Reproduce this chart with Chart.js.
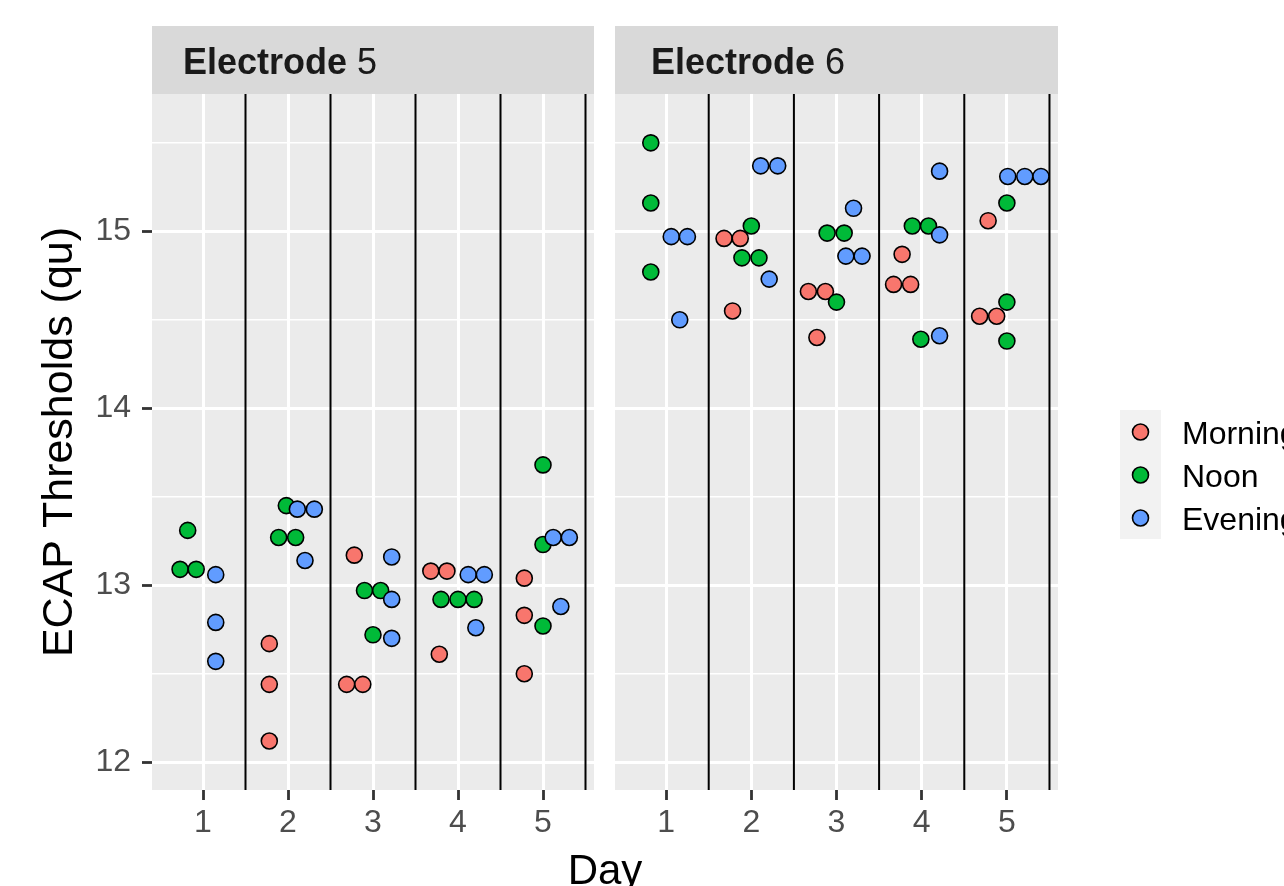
<!DOCTYPE html>
<html>
<head>
<meta charset="utf-8">
<script src="https://cdn.jsdelivr.net/npm/chart.js@4.4.1/dist/chart.umd.min.js"></script>
<style>
body { margin: 0; background: #fff; }
#wrap { position: relative; width: 1284px; height: 886px; overflow: hidden; }
#wrap canvas { position: absolute; left: 0; top: 0; }
</style>
</head>
<body>
<div id="wrap">
<canvas id="panel5" width="1284" height="886"></canvas>
<canvas id="panel6" width="1284" height="886"></canvas>
</div>
<script>
// values: x = day (dodged), y = threshold in qu
var electrodes = ["5", "6"],
    sessions = ["Morning", "Noon", "Evening"],
    dayTicks = [1, 2, 3, 4, 5],
    dayDividers = [1.5, 2.5, 3.5, 4.5, 5.5];

var e5MorningDay = [1.78, 1.78, 1.78, 2.69, 2.88, 2.78, 3.68, 3.87, 3.78, 4.78, 4.78, 4.78],
    e5MorningQu = [12.67, 12.44, 12.12, 12.44, 12.44, 13.17, 13.08, 13.08, 12.61, 13.04, 12.83, 12.5],
    e5NoonDay = [0.82, 0.73, 0.92, 1.98, 1.89, 2.09, 2.9, 3.09, 3.0, 3.8, 4.0, 4.19, 5.0, 5.0, 5.0],
    e5NoonQu = [13.31, 13.09, 13.09, 13.45, 13.27, 13.27, 12.97, 12.97, 12.72, 12.92, 12.92, 12.92, 13.68, 13.23, 12.77],
    e5EveningDay = [1.15, 1.15, 1.15, 2.11, 2.31, 2.2, 3.22, 3.22, 3.22, 4.12, 4.31, 4.21, 5.12, 5.31, 5.21],
    e5EveningQu = [13.06, 12.79, 12.57, 13.43, 13.43, 13.14, 13.16, 12.92, 12.7, 13.06, 13.06, 12.76, 13.27, 13.27, 12.88];

var e6MorningDay = [1.68, 1.87, 1.78, 2.67, 2.87, 2.77, 3.77, 3.67, 3.87, 4.78, 4.68, 4.88],
    e6MorningQu = [14.96, 14.96, 14.55, 14.66, 14.66, 14.4, 14.87, 14.7, 14.7, 15.06, 14.52, 14.52],
    e6NoonDay = [0.82, 0.82, 0.82, 2.0, 1.89, 2.09, 2.89, 3.09, 3.0, 3.89, 4.08, 3.99, 5.0, 5.0, 5.0],
    e6NoonQu = [15.5, 15.16, 14.77, 15.03, 14.85, 14.85, 14.99, 14.99, 14.6, 15.03, 15.03, 14.39, 15.16, 14.6, 14.38],
    e6EveningDay = [1.06, 1.25, 1.16, 2.11, 2.31, 2.21, 3.2, 3.11, 3.3, 4.21, 4.21, 4.21, 5.01, 5.21, 5.4],
    e6EveningQu = [14.97, 14.97, 14.5, 15.37, 15.37, 14.73, 15.13, 14.86, 14.86, 15.34, 14.98, 14.41, 15.31, 15.31, 15.31];

var sessionColors = ["#F8766D", "#00BA38", "#619CFF"],
    fam = "'Liberation Sans', Arial, Helvetica, sans-serif",
    chart5, chart6;

Chart.defaults.font.family = fam;

function makeSets(days, qus) {
    return sessions.map(function (name, i) {
        return {
            label: name,
            data: days[i].map(function (d, j) { return { x: d, y: qus[i][j] }; }),
            backgroundColor: sessionColors[i],
            borderColor: "#000000",
            borderWidth: 1.6,
            pointRadius: 8,
            pointHoverRadius: 8,
            order: 3 - i
        };
    });
}

var panelPlugin = {
    id: "panel",
    beforeDraw(chart, args, opts) {
        var a = chart.chartArea, ctx = chart.ctx;
        ctx.save();
        ctx.fillStyle = "#EBEBEB";
        ctx.fillRect(a.left, a.top, a.right - a.left, a.bottom - a.top);
        ctx.fillStyle = "#D9D9D9";
        ctx.fillRect(a.left, 26, a.right - a.left, a.top - 26);
        ctx.fillStyle = "#1A1A1A";
        ctx.textBaseline = "alphabetic";
        ctx.font = "bold 36px " + fam;
        ctx.fillText("Electrode", a.left + opts.textOffset, 74);
        var w = ctx.measureText("Electrode").width;
        ctx.font = "36px " + fam;
        ctx.fillText(" " + opts.label, a.left + opts.textOffset + w, 74);
        ctx.restore();
    },
    beforeDatasetsDraw(chart) {
        var x = chart.scales.x, a = chart.chartArea, ctx = chart.ctx;
        ctx.save();
        ctx.strokeStyle = "#000000";
        ctx.lineWidth = 2;
        dayDividers.forEach(function (v) {
            var px = x.getPixelForValue(v);
            ctx.beginPath();
            ctx.moveTo(px, a.top);
            ctx.lineTo(px, a.bottom);
            ctx.stroke();
        });
        ctx.restore();
    }
};

var legendPlugin = {
    id: "keyLegend",
    afterDraw(chart, args, opts) {
        if (!opts.show) return;
        var ctx = chart.ctx, a = chart.chartArea, bx = a.right + 62, by = 410;
        ctx.save();
        ctx.fillStyle = "#F2F2F2";
        ctx.fillRect(bx, by, 41, 129);
        chart.data.datasets.forEach(function (ds, i) {
            var cy = by + 22 + i * 43;
            ctx.beginPath();
            ctx.arc(bx + 20.5, cy, 8, 0, Math.PI * 2);
            ctx.fillStyle = ds.backgroundColor;
            ctx.fill();
            ctx.lineWidth = 1.6;
            ctx.strokeStyle = "#000000";
            ctx.stroke();
            ctx.fillStyle = "#000000";
            ctx.font = "32px " + fam;
            ctx.textBaseline = "alphabetic";
            ctx.fillText(ds.label, bx + 62, cy + 11.5);
        });
        // shared x axis title across both panels
        var mid = (chart5.chartArea.left + a.right) / 2;
        ctx.font = "42px " + fam;
        ctx.textAlign = "center";
        ctx.fillText("Day", mid, 884);
        ctx.restore();
    }
};

function isWhole(v) { return Math.abs(v - Math.round(v)) < 1e-6; }

function makeChart(id, days, qus, label, first) {
    var ctx = document.getElementById(id);
    return new Chart(ctx, {
        type: "scatter",
        data: { datasets: makeSets(days, qus) },
        options: {
            responsive: false,
            animation: false,
            layout: { padding: first ? { top: 94, right: 690, left: 0, bottom: 0 } : { top: 94, right: 226, left: 615, bottom: 0 } },
            scales: {
                x: {
                    type: "linear",
                    min: 0.4,
                    max: 5.6,
                    afterFit: function (s) { s.height = 96; },
                    border: { display: false },
                    grid: { color: "#FFFFFF", lineWidth: 3, tickColor: "#333333", tickLength: 10, tickWidth: 2.8 },
                    ticks: {
                        stepSize: 1,
                        includeBounds: false,
                        color: "#4D4D4D",
                        font: { size: 32 },
                        padding: 4,
                        maxRotation: 0,
                        callback: function (v) { return dayTicks.indexOf(v) >= 0 ? v : ""; }
                    }
                },
                y: {
                    min: 11.843,
                    max: 15.776,
                    afterFit: function (s) { s.width = first ? 152 : 0; },
                    border: { display: false },
                    grid: {
                        color: "#FFFFFF",
                        drawTicks: first,
                        lineWidth: function (c) { return c.tick && isWhole(c.tick.value) ? 3 : 1.5; },
                        tickColor: function (c) { return c.tick && isWhole(c.tick.value) ? "#333333" : "rgba(0,0,0,0)"; },
                        tickLength: 10,
                        tickWidth: 2.8
                    },
                    ticks: {
                        display: first,
                        stepSize: 0.5,
                        includeBounds: false,
                        color: "#4D4D4D",
                        font: { size: 32 },
                        padding: 11,
                        callback: function (v) { return isWhole(v) ? Math.round(v) : ""; }
                    },
                    title: { display: first, text: "ECAP Thresholds (qu)", color: "#000000", font: { size: 43 }, padding: { top: 34, bottom: 0 } }
                }
            },
            plugins: {
                legend: { display: false },
                tooltip: { enabled: false },
                panel: { label: label, textOffset: first ? 31 : 36 },
                keyLegend: { show: !first }
            }
        },
        plugins: [panelPlugin, legendPlugin]
    });
}

chart5 = makeChart("panel5", [e5MorningDay, e5NoonDay, e5EveningDay], [e5MorningQu, e5NoonQu, e5EveningQu], electrodes[0], true);
chart6 = makeChart("panel6", [e6MorningDay, e6NoonDay, e6EveningDay], [e6MorningQu, e6NoonQu, e6EveningQu], electrodes[1], false);
</script>
</body>
</html>
